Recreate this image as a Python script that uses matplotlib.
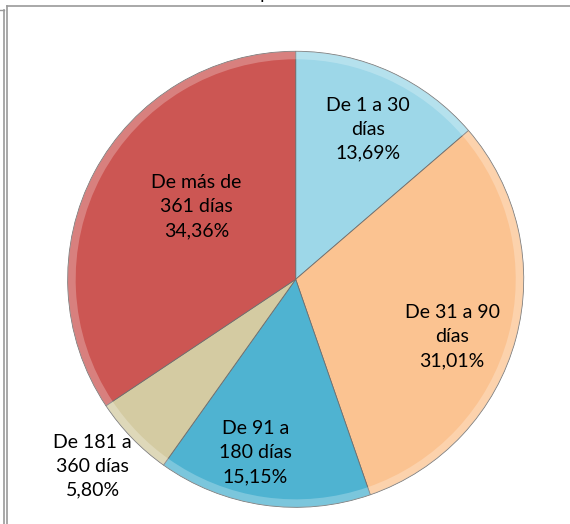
import numpy as np
import matplotlib
matplotlib.use("Agg")
import matplotlib.pyplot as plt
from matplotlib.lines import Line2D

# datos del grafico (porcentajes por antiguedad)
categorias = ["De 1 a 30\ndías", "De 31 a 90\ndías", "De 91 a\n180 días",
              "De 181 a\n360 días", "De más de\n361 días"]
porcentajes = [13.69, 31.01, 15.15, 5.80, 34.36]
etiquetas_pct = ["13,69%", "31,01%", "15,15%", "5,80%", "34,36%"]
titulo = "Septiembre 2013"

colores = ["#9DD7E8", "#FBC391", "#4FB3D1", "#D4CBA2", "#CC5653"]
dist_etiqueta = [0.73, 0.73, 0.78, 1.21, 0.54]
giro_etiqueta = [-1.0, -5.0, -5.0, -1.5, -8.0]

W, H = 570, 524
fig = plt.figure(figsize=(W / 100, H / 100), dpi=100)
fig.patch.set_facecolor("white")

cx, cy, R = 295.7, 279.3, 228
ax = fig.add_axes([(cx - R) / W, (H - cy - R) / H, 2 * R / W, 2 * R / H])
wedges, _ = ax.pie(porcentajes, colors=colores, startangle=90, counterclock=False,
                   radius=1.0,
                   wedgeprops=dict(edgecolor="#6f6f6f", linewidth=0.6))
# borde luminoso tipo bisel
ax.pie(porcentajes, colors=["white"] * 5, startangle=90, counterclock=False,
       radius=1.0, wedgeprops=dict(width=0.035, alpha=0.25, edgecolor="none"))
ax.set_xlim(-1, 1)
ax.set_ylim(-1, 1)
ax.set_aspect("equal")
ax.axis("off")

for w, cat, pct, d, g in zip(wedges, categorias, etiquetas_pct, dist_etiqueta, giro_etiqueta):
    ang = np.deg2rad((w.theta1 + w.theta2) / 2 + g)
    ax.text(d * np.cos(ang), d * np.sin(ang), cat + "\n" + pct,
            ha="center", va="center", fontsize=14, family="Lato",
            linespacing=1.5, color="black")

# titulo cortado arriba (en el original solo se ve el borde inferior)
fig.text(309 / W, 1 + 0.5 / H, titulo, ha="center", va="baseline",
         fontsize=13, family="Lato", color="black")

# marco gris
gris = "#9a9a9a"
fig.add_artist(Line2D([6.5 / W, 1], [1 - 5.5 / H] * 2, color=gris, lw=1.2))
fig.add_artist(Line2D([6.5 / W] * 2, [0, 1 - 5.5 / H], color=gris, lw=1.2))
fig.add_artist(Line2D([3.5 / W] * 2, [0, 1 - 10 / H], color=gris, lw=1.2))
fig.add_artist(Line2D([0, 4 / W], [1 - 10 / H] * 2, color=gris, lw=1.0))

fig.savefig("out.png", dpi=100)
